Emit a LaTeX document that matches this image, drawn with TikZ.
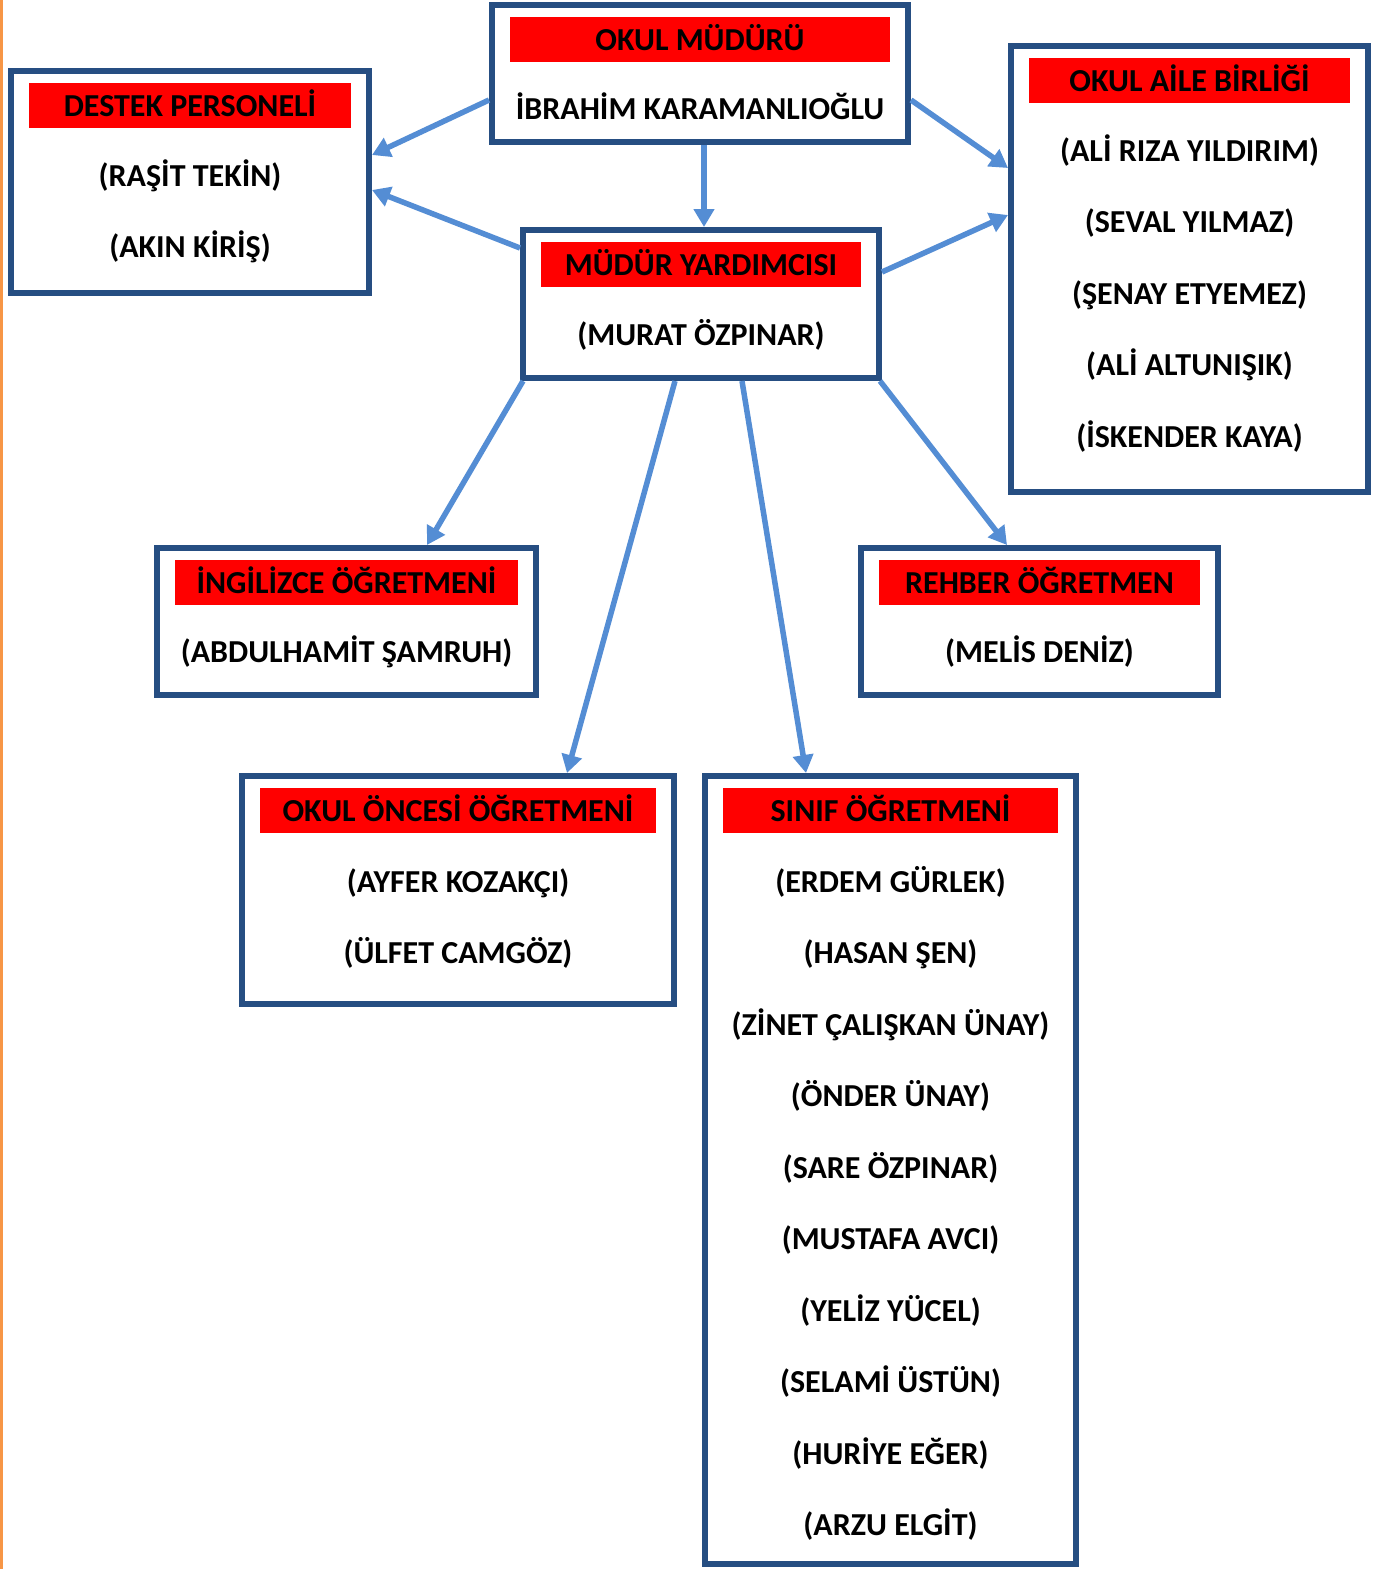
\documentclass[tikz,border=0pt]{standalone}
\usepackage{fontspec}
\setmainfont{Carlito}
\usetikzlibrary{arrows.meta,calc}
\definecolor{boxblue}{RGB}{38,78,130}
\definecolor{arrblue}{RGB}{84,141,212}
\definecolor{edgeorange}{RGB}{247,150,70}
\tikzset{
 orgbox/.style={draw=boxblue, line width=6pt, inner sep=0pt, fill=white},
 redbar/.style={fill=red, inner sep=0pt},
 txt/.style={anchor=base, yshift=-1.5pt, font=\bfseries\fontsize{32}{38}\selectfont, inner sep=0pt, text=black},
 link/.style={draw=arrblue, line width=5.5pt, -{Triangle[length=18pt,width=20pt]}},
}
\newcommand\OrgBox[6]{%
 \pgfmathsetmacro\bx{(#2+#4)/2}%
 \pgfmathsetmacro\bcy{(#3+#5)/2}%
 \pgfmathsetmacro\ow{#4-#2-6}%
 \pgfmathsetmacro\oh{#5-#3-6}%
 \pgfmathsetmacro\bw{#4-#2-42}%
 \pgfmathsetmacro\by{#3+37.5}%
 \node[orgbox, minimum width=\ow pt, minimum height=\oh pt] (#1) at (\bx,\bcy) {};
 \node[redbar, minimum width=\bw pt, minimum height=45pt] (#1-bar) at (\bx,\by) {};
 \node[txt] (#1-title) at (\bx,\by+9.5) {#6};
}
\begin{document}
\begin{tikzpicture}[x=1pt,y=-1pt]
\useasboundingbox (0,0) rectangle (1380,1569);
\fill[white] (0,0) rectangle (1380,1569);
\fill[edgeorange] (0,0) rectangle (2.5,1569);

\OrgBox{mudur}{489}{2}{911}{145}{OKUL MÜDÜRÜ}
\OrgBox{destek}{8}{68}{372}{296}{DESTEK PERSONELİ}
\OrgBox{aile}{1008}{43}{1371}{495}{OKUL AİLE BİRLİĞİ}
\OrgBox{yard}{520}{227}{882}{381}{MÜDÜR YARDIMCISI}
\OrgBox{ing}{154}{545}{539}{698}{İNGİLİZCE ÖĞRETMENİ}
\OrgBox{rehber}{858}{545}{1221}{698}{REHBER ÖĞRETMEN}
\OrgBox{oncesi}{239}{773}{677}{1007}{OKUL ÖNCESİ ÖĞRETMENİ}
\OrgBox{sinif}{702}{773}{1079}{1567}{SINIF ÖĞRETMENİ}

\node[txt] (mudur-1) at (700,117.5) {İBRAHİM KARAMANLIOĞLU};

\node[txt] (destek-1) at (190,184.5) {(RAŞİT TEKİN)};
\node[txt] (destek-2) at (190,255.5) {(AKIN KİRİŞ)};

\node[txt] (aile-1) at (1189.5,159.5) {(ALİ RIZA YILDIRIM)};
\node[txt] (aile-2) at (1189.5,231) {(SEVAL YILMAZ)};
\node[txt] (aile-3) at (1189.5,302.5) {(ŞENAY ETYEMEZ)};
\node[txt] (aile-4) at (1189.5,374) {(ALİ ALTUNIŞIK)};
\node[txt] (aile-5) at (1189.5,445.5) {(İSKENDER KAYA)};

\node[txt] (yard-1) at (701,343.5) {(MURAT ÖZPINAR)};

\node[txt] (ing-1) at (346.5,660.5) {(ABDULHAMİT ŞAMRUH)};
\node[txt] (rehber-1) at (1039.5,660.5) {(MELİS DENİZ)};

\node[txt] (oncesi-1) at (458,890.5) {(AYFER KOZAKÇI)};
\node[txt] (oncesi-2) at (458,961.5) {(ÜLFET CAMGÖZ)};

\node[txt] (sinif-1) at (890.5,890.5) {(ERDEM GÜRLEK)};
\node[txt] (sinif-2) at (890.5,961.5) {(HASAN ŞEN)};
\node[txt] (sinif-3) at (890.5,1033.5) {(ZİNET ÇALIŞKAN ÜNAY)};
\node[txt] (sinif-4) at (890.5,1104.5) {(ÖNDER ÜNAY)};
\node[txt] (sinif-5) at (890.5,1176.5) {(SARE ÖZPINAR)};
\node[txt] (sinif-6) at (890.5,1247.5) {(MUSTAFA AVCI)};
\node[txt] (sinif-7) at (890.5,1319.5) {(YELİZ YÜCEL)};
\node[txt] (sinif-8) at (890.5,1390.5) {(SELAMİ ÜSTÜN)};
\node[txt] (sinif-9) at (890.5,1462.5) {(HURİYE EĞER)};
\node[txt] (sinif-10) at (890.5,1533.5) {(ARZU ELGİT)};

% connectors
\draw[link] ([yshift=-26.5pt]mudur.west) -- ([yshift=27pt]destek.east);
\draw[link] ([yshift=56pt]yard.west) -- ([yshift=-8pt]destek.east);
\draw[link] ([xshift=4pt]mudur.south) -- ([xshift=3pt]yard.north);
\draw[link] ([yshift=-26.5pt]mudur.east) -- ([yshift=101pt]aile.west);
\draw[link] ([yshift=32pt]yard.east) -- ([yshift=54pt]aile.west);
\draw[link] ([xshift=3pt]yard.south west) -- ([xshift=80.5pt]ing.north);
\draw[link] ([xshift=-26pt]yard.south) -- ([xshift=109pt]oncesi.north);
\draw[link] ([xshift=41pt]yard.south) -- ([xshift=-84.5pt]sinif.north);
\draw[link] ([xshift=-2pt]yard.south east) -- ([xshift=-32.5pt]rehber.north);
\end{tikzpicture}
\end{document}
